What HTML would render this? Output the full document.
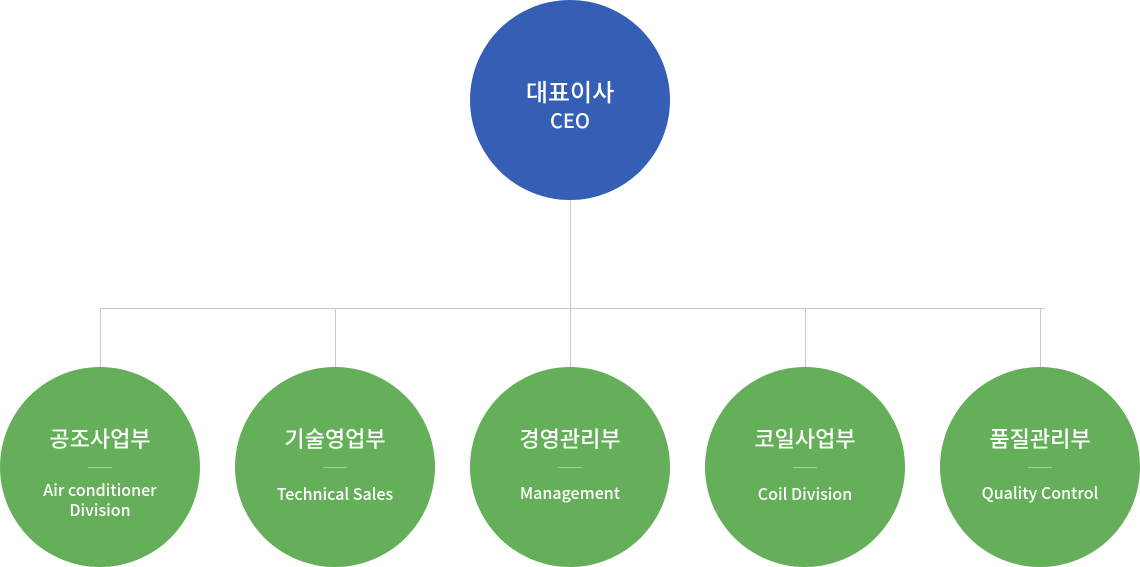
<!DOCTYPE html>
<html><head><meta charset="utf-8"><style>
html,body{margin:0;padding:0;background:#fff;}
svg{display:block;}
text{font-family:"Noto Sans CJK KR","Liberation Sans",sans-serif;font-weight:500;fill:#fff;text-anchor:middle;}
</style></head><body>
<svg width="1140" height="567" viewBox="0 0 1140 567">
<g stroke="#c8c8c8" stroke-width="1" fill="none">
<line x1="570.5" y1="200" x2="570.5" y2="308"/>
<line x1="100" y1="308.5" x2="1045" y2="308.5"/>
<line x1="100.5" y1="308" x2="100.5" y2="367"/>
<line x1="335.5" y1="308" x2="335.5" y2="367"/>
<line x1="570.5" y1="308" x2="570.5" y2="367"/>
<line x1="805.5" y1="308" x2="805.5" y2="367"/>
<line x1="1040.5" y1="308" x2="1040.5" y2="367"/>
</g>
<circle cx="570" cy="100" r="100" fill="#345fb4"/>
<text x="570" y="101" font-size="24">대표이사</text>
<text x="570" y="128" font-size="20">CEO</text>
<g fill="#65ae5a">
<circle cx="100" cy="467" r="100"/><circle cx="335" cy="467" r="100"/><circle cx="570" cy="467" r="100"/><circle cx="805" cy="467" r="100"/><circle cx="1040" cy="467" r="100"/>
</g>
<g stroke="#9fd096" stroke-width="1">
<line x1="88" y1="467.5" x2="112" y2="467.5"/><line x1="323" y1="467.5" x2="347" y2="467.5"/><line x1="558" y1="467.5" x2="582" y2="467.5"/><line x1="793" y1="467.5" x2="817" y2="467.5"/><line x1="1028" y1="467.5" x2="1052" y2="467.5"/>
</g>
<g font-size="22">
<text x="100" y="447">공조사업부</text>
<text x="335" y="447">기술영업부</text>
<text x="570" y="447">경영관리부</text>
<text x="805" y="447">코일사업부</text>
<text x="1040" y="447">품질관리부</text>
</g>
<g font-size="16">
<text x="100" y="496">Air conditioner</text>
<text x="100" y="516">Division</text>
<text x="335" y="500">Technical Sales</text>
<text x="570" y="499">Management</text>
<text x="805" y="500">Coil Division</text>
<text x="1040" y="499">Quality Control</text>
</g>
</svg>
</body></html>
